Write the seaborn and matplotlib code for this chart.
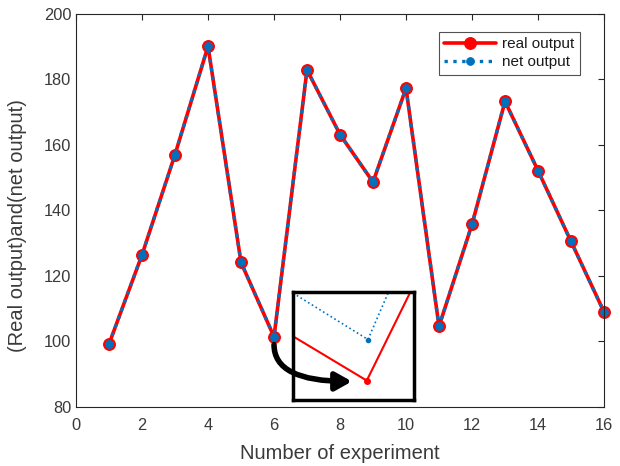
import numpy as np
import pandas as pd
import matplotlib
matplotlib.use("Agg")
import matplotlib.pyplot as plt
import seaborn as sns

# data
experiment = [1, 2, 3, 4, 5, 6, 7, 8, 9, 10, 11, 12, 13, 14, 15, 16]
real_output = [99.2, 126.4, 157.0, 190.0, 124.1, 101.4, 182.8, 163.1, 148.6, 177.2,
               104.6, 135.7, 173.2, 152.1, 130.5, 109.0]
net_output = [99.2, 126.4, 157.0, 190.0, 124.1, 101.4, 182.8, 163.1, 148.6, 177.2,
              104.6, 135.7, 173.2, 152.1, 130.5, 109.0]

# zoomed detail shown in the inset (inset-local coordinates)
inset_x = [0.0, 0.61, 1.05]
inset_real = [0.59, 0.18, 1.18]
inset_net_x = [0.0, 0.62, 0.86]
inset_net = [0.99, 0.56, 1.18]

xticks = [0, 2, 4, 6, 8, 10, 12, 14, 16]
yticks = [80, 100, 120, 140, 160, 180, 200]

sns.set_theme(style="white")
plt.rcParams['font.family'] = ['Liberation Sans', 'DejaVu Sans']
plt.rcParams['xtick.direction'] = 'in'
plt.rcParams['ytick.direction'] = 'in'

df = pd.DataFrame({"x": experiment * 2,
                   "y": real_output + net_output,
                   "series": ["real output"] * 16 + ["net output"] * 16})

fig = plt.figure(figsize=(6.2, 4.66), dpi=100)
ax = fig.add_axes([0.1226, 0.1266, 0.8516, 0.8444])

red = "#FF0000"
blue = "#0072BD"
txt = "#3a3a3a"
sns.lineplot(data=df[df.series == "real output"], x="x", y="y", ax=ax, color=red,
             lw=2.6, marker="o", markersize=8.5, markeredgecolor=red, label="real output",
             clip_on=False)
sns.lineplot(data=df[df.series == "net output"], x="x", y="y", ax=ax, color=blue,
             lw=2.4, linestyle=":", marker="o", markersize=5.5, markeredgecolor=blue,
             label="net output", clip_on=False)

ax.set_xlim(0, 16)
ax.set_ylim(80, 200)
ax.set_xticks(xticks)
ax.set_yticks(yticks)
ax.set_xlabel("Number of experiment", fontsize=14.5, color=txt)
ax.set_ylabel("(Real output)and(net output)", fontsize=14.5, color=txt)
ax.xaxis.set_label_coords(0.5, -0.095)
ax.yaxis.set_label_coords(-0.092, 0.46)
ax.tick_params(axis="both", labelsize=11.8, colors="#262626", length=4, width=0.8,
               top=True, right=True, labelcolor=txt)
ax.tick_params(axis="x", pad=8)
for s in ax.spines.values():
    s.set_color("#262626")
    s.set_linewidth(0.8)

leg = ax.legend(loc="upper right", bbox_to_anchor=(0.9545, 0.953), borderaxespad=0,
                fontsize=11, frameon=True, fancybox=False,
                handlelength=3.4, borderpad=0.35, labelspacing=0.25, handletextpad=0.4)
leg.get_frame().set_edgecolor("#262626")
leg.get_frame().set_linewidth(0.8)
for t in leg.get_texts():
    t.set_color("#1a1a1a")

# inset
ins = fig.add_axes([0.4726, 0.1416, 0.195, 0.2318])
ins.plot(inset_x, inset_real, color=red, lw=1.5)
ins.plot(inset_x[1], inset_real[1], "o", color=red, markersize=4)
ins.plot(inset_net_x, inset_net, color=blue, lw=1.2, linestyle=":")
ins.plot(inset_net_x[1], inset_net[1], "o", color=blue, markersize=3)
ins.set_xlim(0, 1)
ins.set_ylim(0, 1)
ins.set_xticks([])
ins.set_yticks([])
for s in ins.spines.values():
    s.set_color("black")
    s.set_linewidth(2.5)

ins.annotate("", xy=(8.36, 87.8), xycoords=ax.transData,
             xytext=(6.0, 99.0), textcoords=ax.transData,
             arrowprops=dict(arrowstyle="-|>,head_length=0.8,head_width=0.45", color="black",
                             lw=4, shrinkA=0, shrinkB=0,
                             connectionstyle="angle3,angleA=-90,angleB=0"),
             annotation_clip=False)

fig.savefig("out.png", dpi=100)
